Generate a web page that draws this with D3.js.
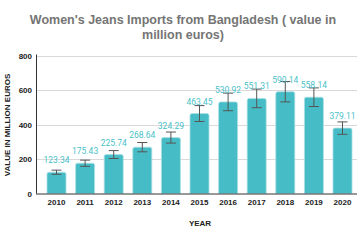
<!DOCTYPE html>
<html>
<head>
<meta charset="utf-8">
<script src="https://cdn.jsdelivr.net/npm/d3@7"></script>
<style>
  html, body { margin: 0; padding: 0; background: #fff; }
  svg { display: block; }
</style>
</head>
<body>
<svg id="chart" width="360" height="240"></svg>
<script>
// data
var years = ["2010", "2011", "2012", "2013", "2014", "2015", "2016", "2017", "2018", "2019", "2020"];
var values = [123.34, 175.43, 225.74, 268.64, 324.29, 463.45, 530.92, 551.31, 590.14, 558.14, 379.11];
var errors = [12, 18, 23, 27, 32, 46, 51, 54, 59, 54, 36];
var yTicks = [0, 200, 400, 600, 800];

var svg = d3.select("#chart");
var teal = "#46bdc6";

// plot box (no "top" here, that name belongs to window)
var plotLeft = 36, plotRight = 357, plotTop = 55.5, plotBottom = 193.5;

var y = d3.scaleLinear().domain([0, 800]).range([plotBottom, plotTop]);
var x = d3.scaleBand().domain(years).range([36, 363]).paddingInner(0.336).paddingOuter(0.385);

// title
svg.append("text")
  .attr("x", 183).attr("y", 0)
  .attr("text-anchor", "middle")
  .style("font-family", "'Liberation Sans', Arial, sans-serif")
  .style("font-weight", "bold")
  .style("font-size", "12.5px")
  .style("fill", "#757575")
  .selectAll("tspan")
  .data(["Women's Jeans Imports from Bangladesh ( value in", "million euros)"])
  .enter().append("tspan")
  .attr("x", 183)
  .attr("y", function(d, i) { return 24 + i * 15; })
  .text(function(d) { return d; });

// gridlines
svg.append("g").selectAll("line")
  .data(yTicks.filter(function(d) { return d > 0; }))
  .enter().append("line")
  .attr("x1", plotLeft).attr("x2", plotRight)
  .attr("y1", function(d) { return Math.round(y(d)) + 0.5; })
  .attr("y2", function(d) { return Math.round(y(d)) + 0.5; })
  .style("stroke", "#d9d9d9");

// y tick labels
svg.append("g").selectAll("text")
  .data(yTicks)
  .enter().append("text")
  .attr("x", 32)
  .attr("y", function(d) { return y(d) + 3; })
  .attr("text-anchor", "end")
  .style("font-family", "'Liberation Sans', Arial, sans-serif")
  .style("font-weight", "bold")
  .style("font-size", "8px")
  .style("fill", "#222")
  .text(function(d) { return d; });

// bars
var bars = svg.append("g").selectAll("g")
  .data(years)
  .enter().append("g");

bars.append("path")
  .attr("d", function(d, i) {
    var x0 = x(d), w = x.bandwidth(), y0 = y(values[i]), r = 2;
    return "M" + x0 + "," + plotBottom + "V" + (y0 + r) + "Q" + x0 + "," + y0 + " " + (x0 + r) + "," + y0 +
      "H" + (x0 + w - r) + "Q" + (x0 + w) + "," + y0 + " " + (x0 + w) + "," + (y0 + r) + "V" + plotBottom + "Z";
  })
  .style("fill", teal)
  .style("stroke", "#a9e0e4")
  .style("stroke-width", 0.8);

// error bars
var eb = bars.append("g").style("stroke", "#555").style("stroke-width", 1);
eb.append("line")
  .attr("x1", function(d) { return x(d) + x.bandwidth() / 2; })
  .attr("x2", function(d) { return x(d) + x.bandwidth() / 2; })
  .attr("y1", function(d, i) { return y(values[i] + errors[i]); })
  .attr("y2", function(d, i) { return y(values[i] - errors[i]); });
eb.selectAll("line.cap")
  .data(function(d, i) { return [[d, values[i] + errors[i]], [d, values[i] - errors[i]]]; })
  .enter().append("line")
  .attr("class", "cap")
  .attr("x1", function(d) { return x(d[0]) + x.bandwidth() / 2 - 5; })
  .attr("x2", function(d) { return x(d[0]) + x.bandwidth() / 2 + 5; })
  .attr("y1", function(d) { return y(d[1]); })
  .attr("y2", function(d) { return y(d[1]); });

// value labels
bars.append("text")
  .attr("x", function(d) { return x(d) + x.bandwidth() / 2; })
  .attr("y", function(d, i) { return y(values[i]) - 9; })
  .attr("text-anchor", "middle")
  .style("font-family", "Roboto, sans-serif")
  .style("font-size", "8.5px")
  .style("fill", "#4bbfc8")
  .text(function(d, i) { return values[i].toFixed(2); });

// axes lines
svg.append("line")
  .attr("x1", plotLeft + 0.5).attr("x2", plotLeft + 0.5)
  .attr("y1", plotTop - 1).attr("y2", plotBottom)
  .style("stroke", "#333");
svg.append("line")
  .attr("x1", plotLeft).attr("x2", plotRight)
  .attr("y1", plotBottom + 0.5).attr("y2", plotBottom + 0.5)
  .style("stroke", "#333");

// x tick labels
svg.append("g").selectAll("text")
  .data(years)
  .enter().append("text")
  .attr("x", function(d) { return x(d) + x.bandwidth() / 2; })
  .attr("y", 205)
  .attr("text-anchor", "middle")
  .style("font-family", "'Liberation Sans', Arial, sans-serif")
  .style("font-weight", "bold")
  .style("font-size", "8px")
  .style("fill", "#222")
  .text(function(d) { return d; });

// axis titles
svg.append("text")
  .attr("x", 200).attr("y", 226)
  .attr("text-anchor", "middle")
  .style("font-family", "'Liberation Sans', Arial, sans-serif")
  .style("font-weight", "bold")
  .style("font-size", "8px")
  .style("fill", "#222")
  .text("YEAR");

svg.append("text")
  .attr("transform", "translate(10,125) rotate(-90)")
  .attr("text-anchor", "middle")
  .style("font-family", "'Liberation Sans', Arial, sans-serif")
  .style("font-weight", "bold")
  .style("font-size", "8px")
  .style("fill", "#222")
  .text("VALUE IN MILLION EUROS");
</script>
</body>
</html>
